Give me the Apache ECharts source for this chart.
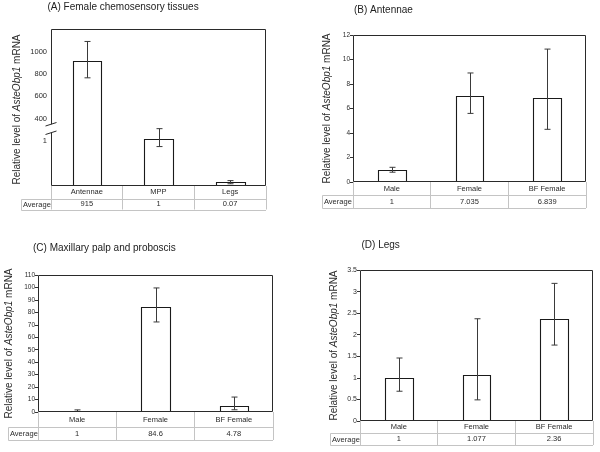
<!DOCTYPE html>
<html><head><meta charset="utf-8">
<script src="https://cdn.jsdelivr.net/npm/echarts@6/dist/echarts.min.js"></script>
<style>html,body{margin:0;padding:0;background:#fff}#c{width:600px;height:452px}</style>
</head><body><div id="c"></div><script>
// ---------- data ----------
const catsA = ['Antennae', 'MPP', 'Legs'];
const valuesA = [915, 1.05, 0.09];
const errLowA = [765, 0.88, 0.05];
const errHighA = [1089, 1.28, 0.12];
const avgA = ['915', '1', '0.07'];
const ticksAUpper = [400, 600, 800, 1000];
const ticksALower = [1];

const catsB = ['Male', 'Female', 'BF Female'];
const valuesB = [1, 7.035, 6.839];
const errLowB = [0.8, 5.6, 4.3];
const errHighB = [1.2, 8.9, 10.85];
const avgB = ['1', '7.035', '6.839'];

const catsC = ['Male', 'Female', 'BF Female'];
const valuesC = [1, 84.6, 4.78];
const errLowC = [0.4, 72.3, 1.8];
const errHighC = [1.7, 99.6, 12.0];
const avgC = ['1', '84.6', '4.78'];

const catsD = ['Male', 'Female', 'BF Female'];
const valuesD = [1, 1.077, 2.36];
const errLowD = [0.69, 0.49, 1.76];
const errHighD = [1.46, 2.37, 3.19];
const avgD = ['1', '1.077', '2.36'];

const titles = ['(A) Female chemosensory tissues', '(B) Antennae', '(C) Maxillary palp and proboscis', '(D) Legs'];
const yName = '{n|Relative level of }{i|AsteObp1}{n| mRNA}';
const avgLabel = 'Average';

// ---------- layout ----------
const FONT = 'Liberation Sans, Arial, sans-serif';
const TXT = '#2b2b2b';
const GRIDLINE = '#c4c4c4';
const lay = {
  A: {L: 51, R: 266, T: 29, Bot: 186, split: 130, r1: 12.5, r2: 11, avgLeft: 21, frac: 0.40, tfs: 7.5},
  B: {L: 353, R: 586, T: 35, Bot: 182, r1: 13, r2: 13, avgLeft: 322, frac: 0.36, tfs: 6.5, gap: 21},
  C: {L: 38, R: 273, T: 275, Bot: 412, r1: 15, r2: 13, avgLeft: 8, frac: 0.36, tfs: 6.5, gap: 24},
  D: {L: 360, R: 593, T: 270, Bot: 421, r1: 11.5, r2: 12.5, avgLeft: 330, frac: 0.36, tfs: 7, gap: 21}
};
const titlePos = [[47.5, 2.5], [354, 5], [33, 243], [361.5, 240]];

function barItem(frac, yMin, yMax) {
  return function (params, api) {
    const v = api.value(1);
    if (v <= yMin) return null;
    const top = Math.min(v, yMax);
    const base = Math.max(0, yMin);
    const pt = api.coord([api.value(0), top]);
    const pb = api.coord([api.value(0), base]);
    const w = api.size([1, 0])[0] * frac;
    const x0 = Math.round(pt[0] - w / 2) + 0.5, x1 = Math.round(pt[0] + w / 2) + 0.5;
    const yt = Math.round(pt[1]) + 0.5, yb = pb[1];
    const st = {stroke: '#1a1a1a', lineWidth: 1.1, fill: null};
    const kids = [{type: 'rect', shape: {x: x0, y: yt, width: x1 - x0, height: yb - yt}, style: {fill: '#fff'}}];
    if (v > yMax) {
      kids.push({type: 'line', shape: {x1: x0, y1: yb, x2: x0, y2: yt - 1}, style: st});
      kids.push({type: 'line', shape: {x1: x1, y1: yb, x2: x1, y2: yt - 1}, style: st});
    } else {
      kids.push({type: 'polyline', shape: {points: [[x0, yb], [x0, yt], [x1, yt], [x1, yb]]}, style: st});
    }
    return {type: 'group', children: kids};
  };
}
function errItem(yMin, yMax) {
  return function (params, api) {
    const lo = api.value(1), hi = api.value(2);
    if (lo > yMax || hi < yMin) return null;
    const a = api.coord([api.value(0), lo]);
    const b = api.coord([api.value(0), hi]);
    const x = Math.round(a[0]) + 0.5;
    const st = {stroke: '#3a3a3a', lineWidth: 1};
    return {type: 'group', children: [
      {type: 'line', shape: {x1: x, y1: a[1], x2: x, y2: b[1]}, style: st},
      {type: 'line', shape: {x1: x - 3, y1: a[1], x2: x + 3, y2: a[1]}, style: st},
      {type: 'line', shape: {x1: x - 3, y1: b[1], x2: x + 3, y2: b[1]}, style: st}
    ]};
  };
}

const grid = [], xAxis = [], yAxis = [], series = [], graphic = [];

function addGrid(l, top, bottom) {
  grid.push({left: l.L, top: top, width: l.R - l.L, height: bottom - top, show: false});
  return grid.length - 1;
}
function catAxes(gi, l, cats, avgs) {
  xAxis.push({
    type: 'category', gridIndex: gi, data: cats, position: 'bottom',
    axisLine: {show: false},
    axisTick: {show: true, length: l.r1 + l.r2, interval: 0, lineStyle: {color: GRIDLINE, width: 1}},
    axisLabel: {interval: 0, margin: l.r1 / 2, verticalAlign: 'middle', fontSize: 7.5, color: TXT, fontFamily: FONT},
    splitLine: {show: false}
  });
  const xi = xAxis.length - 1;
  xAxis.push({
    type: 'category', gridIndex: gi, data: avgs, position: 'bottom', offset: l.r1,
    axisLine: {show: false}, axisTick: {show: false},
    axisLabel: {interval: 0, margin: l.r2 / 2, verticalAlign: 'middle', fontSize: 7.5, color: TXT, fontFamily: FONT}
  });
  return xi;
}
function hiddenCatAxis(gi, cats) {
  xAxis.push({type: 'category', gridIndex: gi, data: cats, show: false});
  return xAxis.length - 1;
}
function valAxis(gi, l, min, max, interval, opts) {
  yAxis.push(Object.assign({
    type: 'value', gridIndex: gi, min: min, max: max, interval: interval,
    axisLine: {show: false},
    axisTick: {show: true, length: 3, lineStyle: {color: '#333'}},
    axisLabel: {fontSize: l.tfs, color: TXT, fontFamily: FONT, margin: 3},
    splitLine: {show: false}
  }, opts || {}));
  return yAxis.length - 1;
}
function addSeries(xi, yi, l, vals, lo, hi, yMin, yMax) {
  series.push({
    type: 'custom', xAxisIndex: xi, yAxisIndex: yi, renderItem: barItem(l.frac, yMin, yMax),
    data: vals.map((v, i) => [i, v]), encode: {x: 0, y: 1}, z: 2, silent: true
  });
  series.push({
    type: 'custom', xAxisIndex: xi, yAxisIndex: yi, renderItem: errItem(yMin, yMax),
    data: vals.map((v, i) => [i, lo[i], hi[i]]), encode: {x: 0, y: [1, 2]}, z: 3, silent: true
  });
}
function tableDecor(l) {
  const y1 = Math.round(l.Bot + l.r1) + 0.5, y2 = Math.round(l.Bot + l.r1 + l.r2) + 0.5;
  const xa = Math.round(l.avgLeft) + 0.5;
  const st = {stroke: GRIDLINE, lineWidth: 1};
  graphic.push({type: 'line', shape: {x1: xa, y1: y1, x2: l.R, y2: y1}, style: st, z: 50});
  graphic.push({type: 'line', shape: {x1: xa, y1: y2, x2: l.R, y2: y2}, style: st, z: 50});
  graphic.push({type: 'line', shape: {x1: xa, y1: y1, x2: xa, y2: y2}, style: st, z: 50});
  graphic.push({type: 'text', x: xa + 1.5, y: (y1 + y2) / 2, z: 50,
    style: {text: avgLabel, fontSize: 7.5, fontFamily: FONT, fill: TXT, align: 'left', verticalAlign: 'middle'}});
  graphic.push({type: 'rect', shape: {x: l.L + 0.5, y: l.T + 0.5, width: l.R - l.L - 1, height: l.Bot - l.T - 1},
    style: {fill: null, stroke: '#2a2a2a', lineWidth: 1}, z: 100});
}
const nameStyle = {
  fontSize: 10, color: TXT, fontFamily: FONT,
  rich: {n: {fontSize: 10, color: TXT, fontFamily: FONT}, i: {fontSize: 10, fontStyle: 'italic', color: TXT, fontFamily: FONT}}
};

// ----- Panel A (broken axis: two stacked grids) -----
{
  const l = lay.A;
  const gU = addGrid(l, l.T, l.split);
  const gL = addGrid(l, l.split, l.Bot);
  const xU = hiddenCatAxis(gU, catsA);
  const yU = valAxis(gU, l, 300, 1200, 100, {
    axisTick: {show: false},
    axisLabel: {fontSize: l.tfs, color: TXT, fontFamily: FONT, margin: 4,
      formatter: v => ticksAUpper.includes(v) ? String(v) : ''}
  });
  const xL = catAxes(gL, l, catsA, avgA);
  const yL = valAxis(gL, l, 0, 1.25, 0.25, {
    axisTick: {show: false},
    axisLabel: {fontSize: l.tfs, color: TXT, fontFamily: FONT, margin: 4,
      formatter: v => ticksALower.includes(v) ? String(v) : ''}
  });
  addSeries(xU, yU, l, valuesA, errLowA, errHighA, 300, 1200);
  addSeries(xL, yL, l, valuesA, errLowA, errHighA, 0, 1.25);
  tableDecor(l);
  graphic.push({type: 'text', x: 17, y: (l.T + l.Bot) / 2 + 2, rotation: Math.PI / 2, z: 50,
    style: {text: yName, rich: nameStyle.rich, fontSize: 10, fontFamily: FONT, fill: TXT, align: 'center', verticalAlign: 'middle'}});
}
// ----- Panels B, C, D -----
function simplePanel(l, cats, vals, lo, hi, avgs, min, max, interval) {
  const g = addGrid(l, l.T, l.Bot);
  const xi = catAxes(g, l, cats, avgs);
  const yi = valAxis(g, l, min, max, interval, {
    name: yName, nameLocation: 'middle', nameRotate: 90, nameGap: l.gap, nameTextStyle: nameStyle
  });
  addSeries(xi, yi, l, vals, lo, hi, min, max);
  tableDecor(l);
}
simplePanel(lay.B, catsB, valuesB, errLowB, errHighB, avgB, 0, 12, 2);
simplePanel(lay.C, catsC, valuesC, errLowC, errHighC, avgC, 0, 110, 10);
simplePanel(lay.D, catsD, valuesD, errLowD, errHighD, avgD, 0, 3.5, 0.5);

const title = titles.map((t, i) => ({
  text: t, left: titlePos[i][0], top: titlePos[i][1], padding: 0,
  textStyle: {fontSize: 10, fontWeight: 'normal', color: '#222', fontFamily: FONT}
}));

const chart = echarts.init(document.getElementById('c'), null, {renderer: 'canvas'});
chart.setOption({animation: false, backgroundColor: '#fff', title, grid, xAxis, yAxis, series, graphic});

// axis-break marks on panel A, placed at the boundary between the two stacked grids
{
  const l = lay.A;
  const p = chart.convertToPixel({gridIndex: 0}, [0, 300]);
  const B = p[1];
  const extra = [
    {type: 'rect', shape: {x: l.L - 2, y: B - 5.75, width: 4, height: 8.5}, style: {fill: '#fff'}, z: 101},
    {type: 'line', shape: {x1: l.L - 5.5, y1: B - 4, x2: l.L + 5.5, y2: B - 7.5}, style: {stroke: '#2a2a2a', lineWidth: 1}, z: 102},
    {type: 'line', shape: {x1: l.L - 5.5, y1: B + 4.5, x2: l.L + 5.5, y2: B + 1}, style: {stroke: '#2a2a2a', lineWidth: 1}, z: 102}
  ];
  chart.setOption({graphic: graphic.concat(extra)});
}
</script></body></html>
